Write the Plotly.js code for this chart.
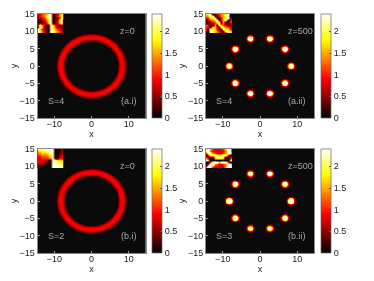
<!DOCTYPE html>
<html><head><meta charset="utf-8">
<script src="https://cdn.plot.ly/plotly-3.0.1.min.js"></script>
<style>html,body{margin:0;padding:0;background:#fff}#c{width:374px;height:281px;filter:blur(0.4px)}</style>
</head><body><div id="c"></div>
<script>
// Values
const xTicks=[-10,0,10];
const yTicks=[-15,-10,-5,0,5,10,15];
const barTicks=[0,0.5,1,1.5,2];
const zMax=2.4;
const gridHalf=15;
const gridStep=0.125;

// ring cross-section: radius -> amplitude
const ringRadius=[6,6.25,6.5,6.75,7,7.25,7.5,7.75,8,8.25,8.5,8.75,9,9.25,9.5,9.75,10,10.25,10.5];
const ringAmp=[0,0,0.01,0.04,0.12,0.3,0.58,0.8,0.88,0.9,0.88,0.8,0.58,0.3,0.12,0.04,0.01,0,0];

// soliton cross-section: distance from spot centre -> fraction of peak
const spotDist=[0,0.25,0.5,0.75,1,1.25,1.5,1.75,2];
const spotAmp=[1,0.92,0.68,0.4,0.19,0.07,0.02,0,0];

const spotX=[2.6,6.7,8.3,6.7,2.6,-2.6,-6.7,-8.3,-6.7,-2.6];
const spotY=[7.9,4.9,0,-4.9,-7.9,-7.9,-4.9,0,4.9,7.9];
const peaksAii=[3.5,3.8,3.4,3.8,3.5,3.5,3.8,3.4,3.8,3.5];
const peaksBii=[3.1,3.7,4.6,3.7,3.1,3.1,3.7,4.6,3.7,3.1];

const hot=[[0,'#0a0a0a'],[0.04,'#1a0000'],[0.375,'#ff0000'],[0.75,'#ffff00'],[1,'#ffffff']];

// inset phase maps, digit 0-9 per cell, top row first
const insetAi=["3345689013579","2345789013579","2234689012479","1123579012790","0112479013691",
 "1963109742110","0972109753211","9742109864322","9753109875432","9753109865433"];
const insetAii=["6790134567901","5679013567902","3467901367913","1345790367034","0123479060135",
 "5310609743210","4307630975431","3197631097643","2097653109765","1097654310976"];
const insetBi=["7889999900123","6677889900123","5566678900123","4455567900233","3344456900333",
 "3333310996665","3332100997777","2221000998888","2110000999888","1100000999999"];
const insetBii=["7964333346972","9953333335990","3995433345992","0399976799300","4200799970025",
 "9600100010069","0039996999300","0399543345993","2995333335996","7963333336975"];

const W=374,H=281;
const panels=[
 {l:37.5,t:14,bar:152,inset:insetAi,peaks:null,tx:['z=0','S=4','(a.i)'],zx:9.7},
 {l:206,t:14,bar:320.5,inset:insetAii,peaks:peaksAii,tx:['z=500','S=4','(a.ii)'],zx:11},
 {l:37.5,t:149,bar:152,inset:insetBi,peaks:null,tx:['z=0','S=2','(b.i)'],zx:9.7},
 {l:206,t:149,bar:320.5,inset:insetBii,peaks:peaksBii,tx:['z=500','S=3','(b.ii)'],zx:11}
];
const PW=108,PH=104,IW=26,IH=19;

function lookup(tabX,tabY,v){
 if(v<=tabX[0])return tabY[0];
 for(let i=1;i<tabX.length;i++){if(v<=tabX[i]){const f=(v-tabX[i-1])/(tabX[i]-tabX[i-1]);return tabY[i-1]+f*(tabY[i]-tabY[i-1]);}}
 return tabY[tabY.length-1];
}
const axisVals=[];for(let i=-gridHalf/gridStep;i<=gridHalf/gridStep;i++)axisVals.push(i*gridStep);
function field(peaks){
 return axisVals.map(y=>axisVals.map(x=>{
  if(!peaks)return lookup(ringRadius,ringAmp,Math.hypot(x,y));
  let v=0;
  spotX.forEach((sx,k)=>{const d=Math.hypot(x-sx,y-spotY[k]);
   if(d<=2)v+=peaks[k]*lookup(spotDist,spotAmp,d);});
  return v;}));
}
const font={family:'"Liberation Sans",Arial,sans-serif',size:9,color:'#222'};
const data=[],layout={width:W,height:H,margin:{l:0,r:0,t:0,b:0},paper_bgcolor:'#fff',plot_bgcolor:'#0a0a0a',font:font,showlegend:false,annotations:[]};
panels.forEach((p,i)=>{
 const n=i+1,m=i+5;
 data.push({type:'heatmap',x:axisVals,y:axisVals,z:field(p.peaks),zmin:0,zmax:zMax,zsmooth:'best',colorscale:hot,hoverinfo:'skip',
  xaxis:'x'+n,yaxis:'y'+n,
  colorbar:{x:p.bar/W,xanchor:'left',xpad:0,ypad:0,thickness:9.5,thicknessmode:'pixels',len:PH/H,lenmode:'fraction',
   y:1-(p.t+PH/2)/H,yanchor:'middle',tickvals:barTicks,ticktext:barTicks.map(String),ticks:'inside',ticklen:2,tickcolor:'#555',
   outlinecolor:'#666',outlinewidth:0.7,tickfont:font,ticklabelstandoff:-1}});
 const ax={showgrid:false,zeroline:false,ticks:'inside',ticklen:2,tickcolor:'#999',linecolor:'#888',linewidth:1,mirror:true,tickfont:font};
 layout['xaxis'+n]=Object.assign({},ax,{domain:[p.l/W,(p.l+PW)/W],anchor:'y'+n,range:[-14.5,14.5],tickvals:xTicks,ticktext:xTicks.map(v=>v<0?'\u2212'+(-v):''+v),
   ticklabelstandoff:-3,title:{text:'x',font:font,standoff:0}});
 layout['yaxis'+n]=Object.assign({},ax,{domain:[1-(p.t+PH)/H,1-p.t/H],anchor:'x'+n,range:[-15,15],tickvals:yTicks,ticktext:yTicks.map(v=>v<0?'\u2212'+(-v):''+v),
   title:{text:'y',font:font,standoff:0}});
 const rows=p.inset.map(s=>s.split('').map(Number)).reverse();
 data.push({type:'heatmap',z:rows,zmin:0,zmax:9,zsmooth:'best',colorscale:hot,showscale:false,hoverinfo:'skip',xaxis:'x'+m,yaxis:'y'+m});
 layout['xaxis'+m]={domain:[p.l/W,(p.l+IW)/W],anchor:'y'+m,visible:false,range:[0,12]};
 layout['yaxis'+m]={domain:[1-(p.t+IH)/H,1-p.t/H],anchor:'x'+m,visible:false,range:[0,9]};
 const tf={family:font.family,size:9,color:'#a8a8a8'};
 [[p.tx[0],p.zx,10],[p.tx[1],-9.6,-10],[p.tx[2],10,-10]].forEach(a=>{
  layout.annotations.push({xref:'x'+n,yref:'y'+n,x:a[1],y:a[2],text:a[0],showarrow:false,font:tf,xanchor:'center',yanchor:'middle'});
 });
});
Plotly.newPlot('c',data,layout,{displayModeBar:false,staticPlot:true});
</script></body></html>
